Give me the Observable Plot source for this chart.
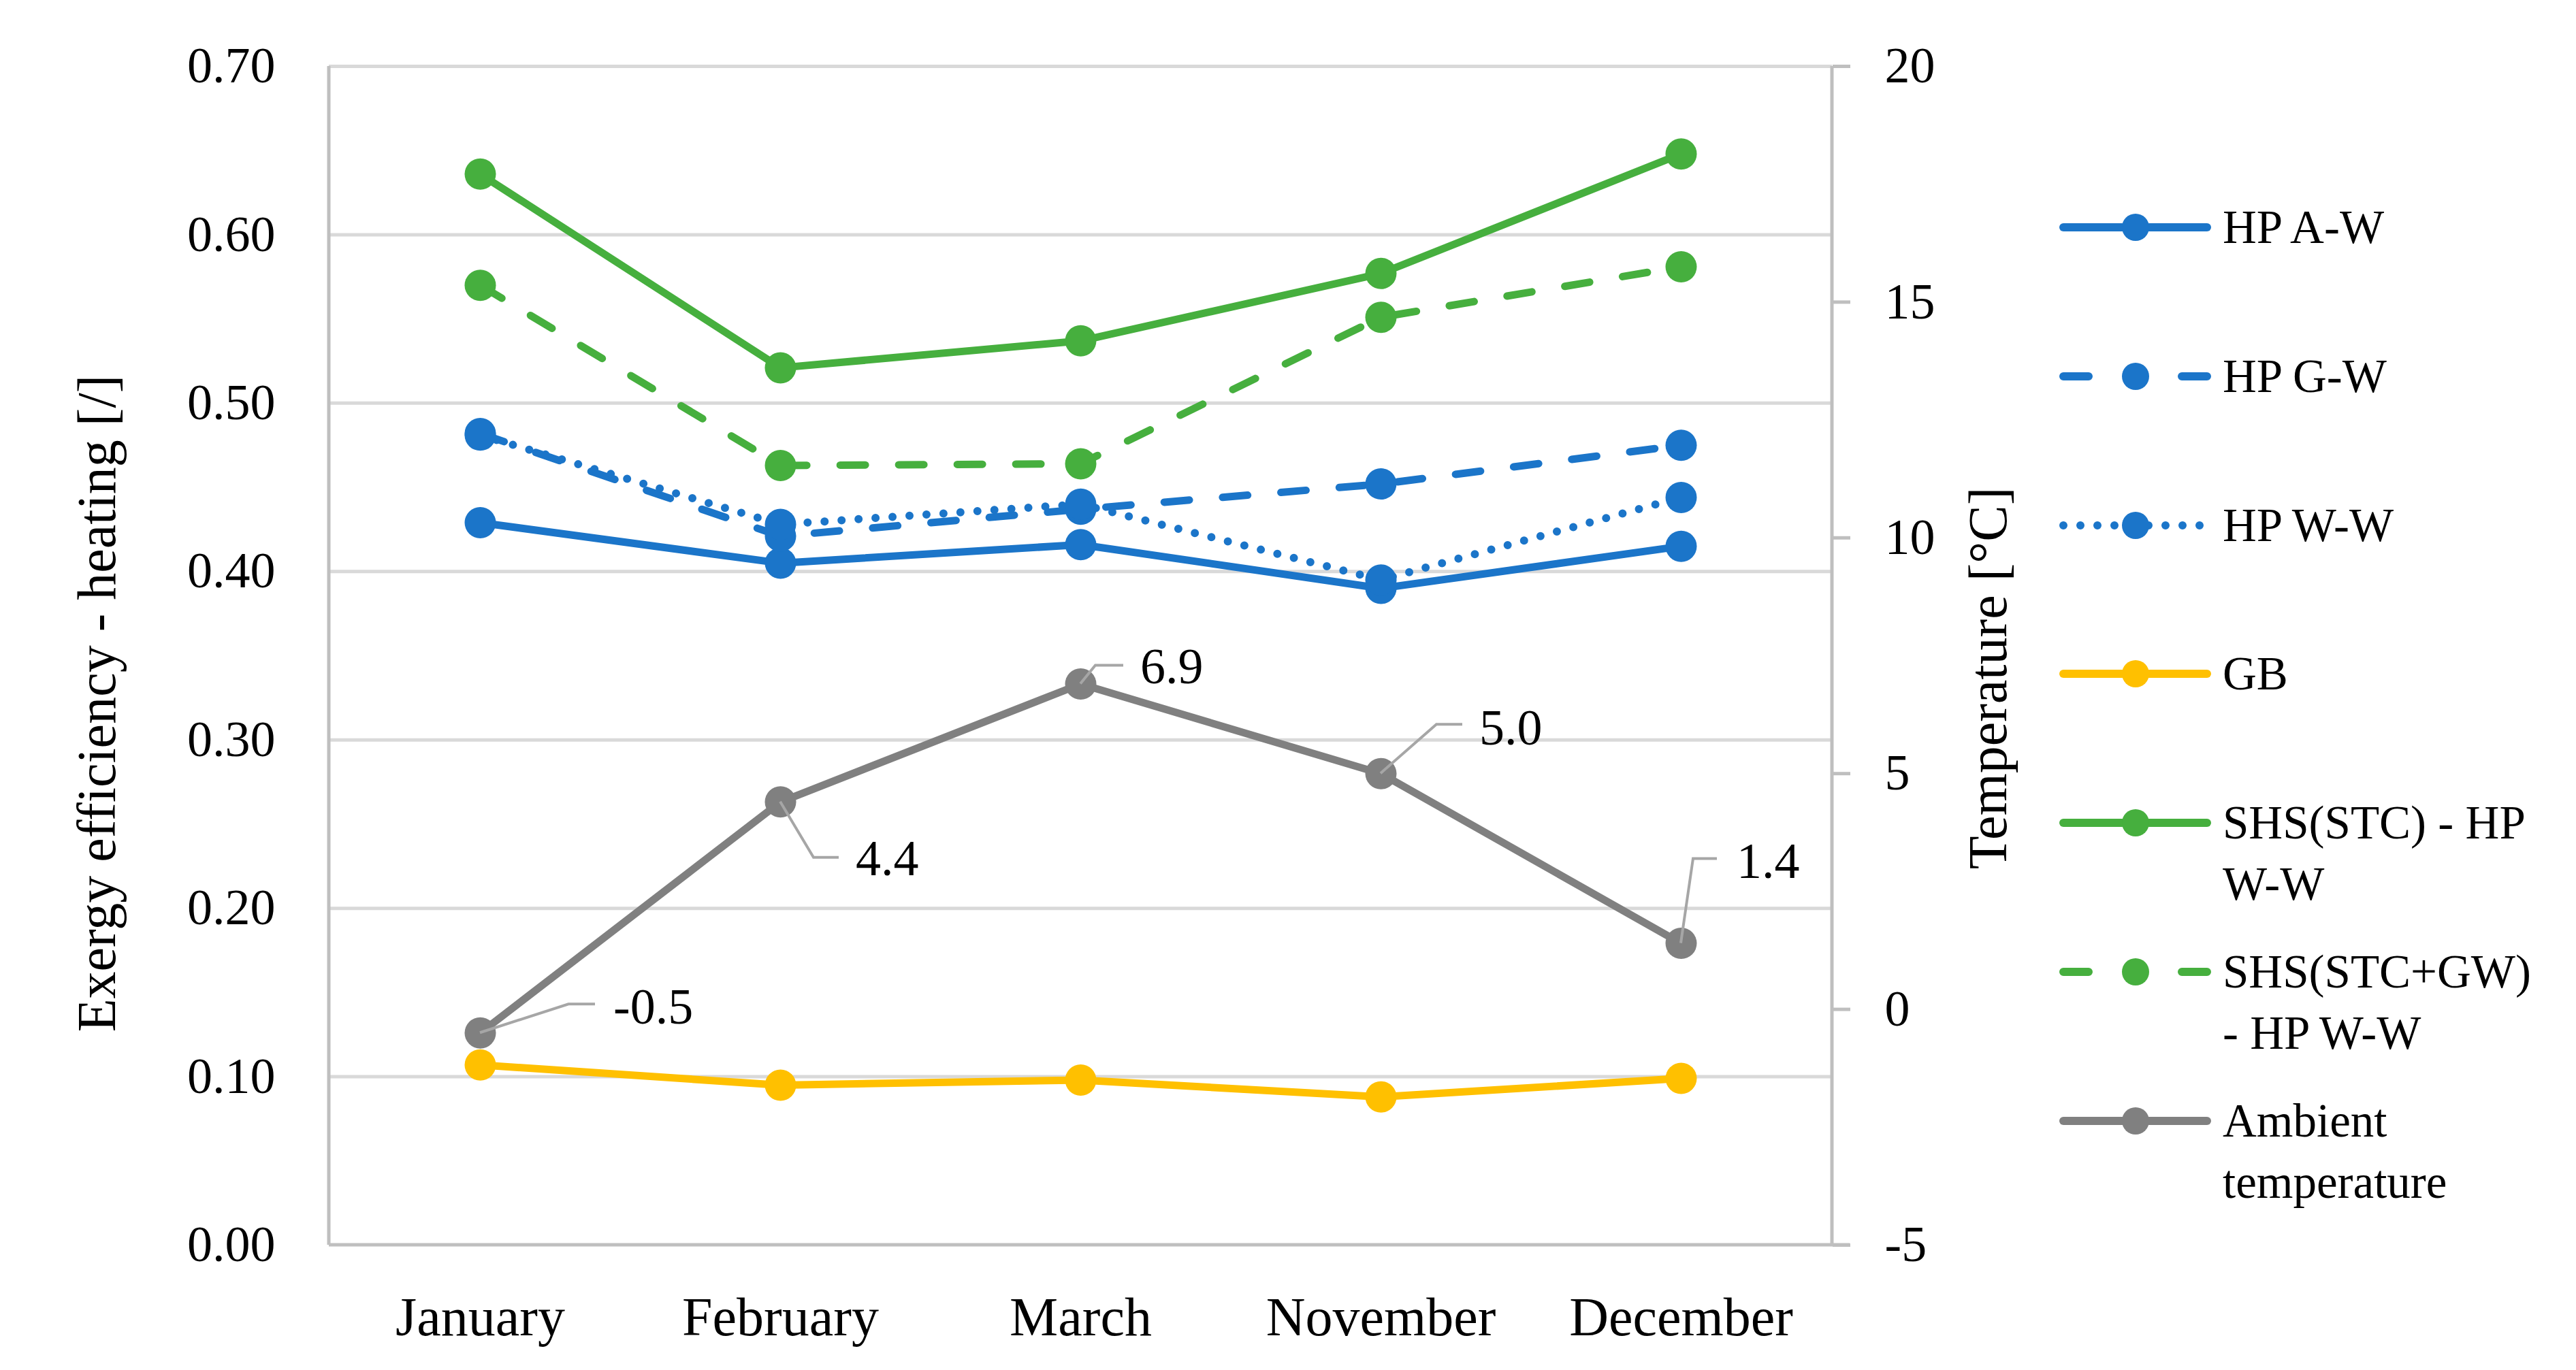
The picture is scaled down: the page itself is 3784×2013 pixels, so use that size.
<!DOCTYPE html>
<html>
<head>
<meta charset="utf-8">
<script src="https://cdn.jsdelivr.net/npm/d3@7"></script>
<script src="https://cdn.jsdelivr.net/npm/@observablehq/plot@0.6"></script>
<style>
  html, body { margin: 0; padding: 0; background: #fff; }
  #wrap { position: relative; width: 3784px; height: 2013px; overflow: hidden; }
  #legend { position: absolute; left: 3025px; top: 289px; font-family: 'Liberation Serif', serif; font-size: 69px; color: #000; }
  .item { position: absolute; left: 0; display: flex; align-items: flex-start; }
  .item svg { flex: none; display: block; }
  .item .lbl { margin-left: 17px; line-height: 90px; white-space: pre; }
</style>
</head>
<body>
<div id="wrap"><div id="chart"></div><div id="legend"></div></div>
<script>
// ---------- data ----------
const months = ["January", "February", "March", "November", "December"];
const hpAW     = [0.429, 0.405, 0.416, 0.390, 0.415];
const hpGW     = [0.482, 0.421, 0.437, 0.452, 0.475];
const hpWW     = [0.481, 0.428, 0.440, 0.395, 0.444];
const gb       = [0.107, 0.095, 0.098, 0.088, 0.099];
const shsSTC   = [0.636, 0.521, 0.537, 0.577, 0.648];
const shsSTCGW = [0.570, 0.463, 0.464, 0.551, 0.581];
const ambient  = [-0.5, 4.4, 6.9, 5.0, 1.4];
const seriesNames = ["HP A-W", "HP G-W", "HP W-W", "GB", "SHS(STC) - HP W-W", "SHS(STC+GW) - HP W-W", "Ambient temperature"];
const legendLabels = ["HP A-W", "HP G-W", "HP W-W", "GB", "SHS(STC) - HP\nW-W", "SHS(STC+GW)\n- HP W-W", "Ambient\ntemperature"];
const leftTicks  = [0, 0.1, 0.2, 0.3, 0.4, 0.5, 0.6, 0.7];
const rightTicks = [-5, 0, 5, 10, 15, 20];
const leftDomain  = [0, 0.7];
const rightDomain = [-5, 20];
const leftTitle  = "Exergy efficiency - heating [/]";
const rightTitle = "Temperature [°C]";

// ---------- styles / layout ----------
const BLUE = "#1b75c9", GREEN = "#46af3e", YELLOW = "#ffc000", GRAY = "#808080";
const styles = [
  {color: BLUE,   dash: null,    legendDash: null},
  {color: BLUE,   dash: "37 49", legendDash: "37 137 37"},
  {color: BLUE,   dash: "0 25",  legendDash: "0 25"},
  {color: YELLOW, dash: null,    legendDash: null},
  {color: GREEN,  dash: null,    legendDash: null},
  {color: GREEN,  dash: "37 49", legendDash: "37 137 37"},
  {color: GRAY,   dash: null,    legendDash: null}
];
// pixel offsets of ambient data-label leaders relative to their point
const labelLayout = [
  {ex: 130, ey: -42, hx: 169, tx: 196, ty: -38},
  {ex: 49,  ey: 82,  hx: 86,  tx: 111, ty: 84},
  {ex: 22,  ey: -27, hx: 63,  tx: 88,  ty: -25},
  {ex: 82,  ey: -72, hx: 120, tx: 145, ty: -67},
  {ex: 18,  ey: -124, hx: 53, tx: 82,  ty: -120}
];

const toLeft = d3.scaleLinear().domain(rightDomain).range(leftDomain);
const toRight = d3.scaleLinear().domain(leftDomain).range(rightDomain);

const leftSeries = [hpAW, hpGW, hpWW, gb, shsSTC, shsSTCGW];
const rows = [];
leftSeries.forEach((vals, s) => vals.forEach((v, i) => rows.push({series: seriesNames[s], s, month: months[i], value: v})));
ambient.forEach((t, i) => rows.push({series: seriesNames[6], s: 6, month: months[i], value: toLeft(t), temp: t}));

const seriesMarks = [];
seriesNames.forEach((name, s) => {
  const data = rows.filter(d => d.s === s);
  const st = styles[s];
  seriesMarks.push(Plot.line(data, {
    x: "month", y: "value", stroke: st.color,
    strokeWidth: st.dash === "0 25" ? 12 : 11,
    strokeDasharray: st.dash, strokeLinecap: "round", strokeLinejoin: "round"
  }));
  seriesMarks.push(Plot.dot(data, {x: "month", y: "value", r: 23, fill: st.color}));
});

function frameLines(index, scales, values, dims) {
  const g = d3.create("svg:g").attr("stroke", "#bfbfbf").attr("stroke-width", 5).attr("fill", "none");
  const l = dims.marginLeft, r = dims.width - dims.marginRight;
  const t = dims.marginTop, b = dims.height - dims.marginBottom;
  g.append("path").attr("d", `M${l},${t}V${b}`);
  g.append("path").attr("d", `M${r},${t}V${b}`);
  g.append("path").attr("d", `M${l},${b}H${r + 26}`);
  return g.node();
}

function ambientLabels(index, scales) {
  const g = d3.create("svg:g");
  ambient.forEach((t, i) => {
    const px = scales.x(months[i]), py = scales.y(toLeft(t));
    const o = labelLayout[i];
    g.append("path")
      .attr("d", `M${px},${py}L${px + o.ex},${py + o.ey}H${px + o.hx}`)
      .attr("fill", "none").attr("stroke", "#a6a6a6").attr("stroke-width", 4);
    g.append("text")
      .attr("x", px + o.tx).attr("y", py + o.ty).attr("dy", "0.33em")
      .attr("text-anchor", "start").attr("font-size", 74).attr("fill", "#000")
      .text(t.toFixed(1));
  });
  return g.node();
}

const chart = Plot.plot({
  width: 3784,
  height: 2013,
  marginLeft: 483,
  marginRight: 1093,
  marginTop: 97,
  marginBottom: 184,
  style: {fontFamily: "'Liberation Serif', serif", fontSize: "74px", color: "#000", background: "#fff"},
  x: {type: "point", domain: months, padding: 0.5},
  y: {domain: leftDomain},
  marks: [
    Plot.gridY(leftTicks.slice(1), {stroke: "#d9d9d9", strokeOpacity: 1, strokeWidth: 5}),
    frameLines,
    Plot.axisY({ticks: leftTicks, tickFormat: d3.format(".2f"), tickSize: 0, tickPadding: 79, fontSize: 74, fill: "#000", label: null}),
    Plot.axisY({anchor: "right", ticks: rightTicks.map(toLeft), tickFormat: v => String(Math.round(toRight(v))),
      tickSize: 26, tickPadding: 51, stroke: "#bfbfbf", strokeWidth: 5, fill: "#000", fontSize: 74, label: null}),
    Plot.axisX({tickSize: 0, tickPadding: 76, fontSize: 80, fill: "#000", label: null}),
    Plot.text([leftTitle], {text: d => d, frameAnchor: "left", textAnchor: "middle", rotate: -90, dx: -340, dy: 70, fontSize: 80, fill: "#000"}),
    Plot.text([rightTitle], {text: d => d, frameAnchor: "right", textAnchor: "middle", rotate: -90, dx: 230, dy: 33, fontSize: 80, fill: "#000"}),
    ...seriesMarks,
    ambientLabels
  ]
});
document.getElementById("chart").appendChild(chart);

// ---------- legend ----------
const legend = d3.select("#legend");
seriesNames.forEach((name, s) => {
  const item = legend.append("div").attr("class", "item").style("top", (s * 218.8) + "px");
  const svg = item.append("svg").attr("width", 223).attr("height", 90);
  svg.append("line").attr("x1", 6).attr("x2", 217).attr("y1", 45).attr("y2", 45)
    .attr("stroke", styles[s].color).attr("stroke-width", 12).attr("stroke-linecap", "round")
    .attr("stroke-dasharray", styles[s].legendDash);
  svg.append("circle").attr("cx", 112).attr("cy", 45).attr("r", 20).attr("fill", styles[s].color);
  item.append("div").attr("class", "lbl").text(legendLabels[s]);
});
</script>
</body>
</html>
